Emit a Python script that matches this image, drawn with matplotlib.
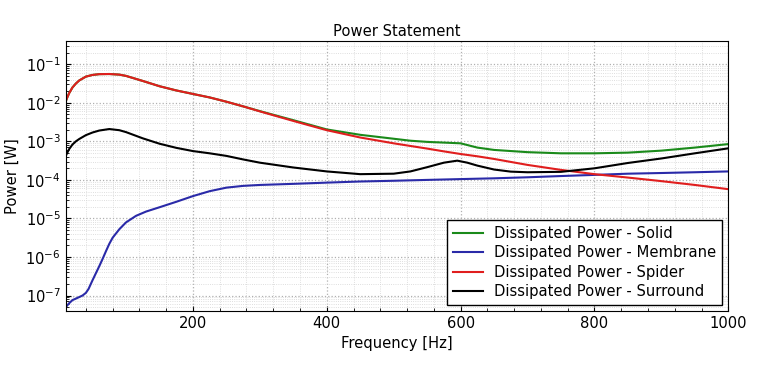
import matplotlib
matplotlib.use("Agg")
import matplotlib.pyplot as plt
from matplotlib.ticker import AutoMinorLocator, LogLocator, NullFormatter

# Values (frequency in Hz, power in W)
freq = [10, 12, 15, 20, 25, 30, 40, 50, 60, 75, 90, 100, 125, 150, 175, 200,
        225, 250, 275, 300, 350, 400, 450, 500, 525, 550, 575, 600, 625, 650,
        700, 750, 800, 850, 900, 950, 1000]

spider = [1.10e-2, 1.35e-2, 1.78e-2, 2.51e-2, 3.16e-2, 3.80e-2, 4.79e-2, 5.3e-2,
          5.55e-2, 5.6e-2, 5.4e-2, 5.0e-2, 3.7e-2, 2.7e-2, 2.1e-2, 1.70e-2,
          1.38e-2, 1.07e-2, 8.1e-3, 6.0e-3, 3.39e-3, 1.95e-3, 1.26e-3, 8.9e-4,
          7.6e-4, 6.5e-4, 5.5e-4, 4.7e-4, 4.1e-4, 3.5e-4, 2.45e-4, 1.82e-4,
          1.41e-4, 1.15e-4, 9.3e-5, 7.4e-5, 5.75e-5]

solid = [1.10e-2, 1.35e-2, 1.78e-2, 2.51e-2, 3.16e-2, 3.80e-2, 4.79e-2, 5.3e-2,
         5.55e-2, 5.6e-2, 5.4e-2, 5.0e-2, 3.7e-2, 2.7e-2, 2.1e-2, 1.70e-2,
         1.38e-2, 1.07e-2, 8.1e-3, 6.1e-3, 3.55e-3, 2.04e-3, 1.48e-3, 1.17e-3,
         1.04e-3, 9.7e-4, 9.3e-4, 8.9e-4, 6.9e-4, 6.0e-4, 5.25e-4, 4.9e-4,
         4.9e-4, 5.1e-4, 5.75e-4, 6.9e-4, 8.5e-4]

freq_surround = [10, 12, 15, 20, 25, 30, 40, 50, 60, 75, 90, 100, 125, 150, 175,
                 200, 225, 250, 275, 300, 350, 400, 450, 500, 525, 550, 575, 595,
                 610, 625, 650, 675, 700, 750, 800, 850, 900, 950, 1000]

surround = [4.2e-4, 5.0e-4, 6.3e-4, 8.3e-4, 1.0e-3, 1.15e-3, 1.45e-3, 1.70e-3,
            1.91e-3, 2.09e-3, 1.95e-3, 1.74e-3, 1.20e-3, 8.7e-4, 6.8e-4, 5.6e-4,
            4.9e-4, 4.2e-4, 3.4e-4, 2.8e-4, 2.1e-4, 1.66e-4, 1.41e-4, 1.45e-4,
            1.66e-4, 2.14e-4, 2.8e-4, 3.16e-4, 2.8e-4, 2.35e-4, 1.86e-4, 1.64e-4,
            1.58e-4, 1.62e-4, 2.0e-4, 2.75e-4, 3.6e-4, 4.9e-4, 6.6e-4]

freq_membrane = [10, 15, 20, 25, 30, 35, 40, 44, 50, 55, 60, 65, 70, 75, 80, 90,
                 100, 115, 130, 150, 175, 200, 225, 250, 275, 300, 350, 400,
                 450, 500, 550, 600, 650, 700, 750, 800, 850, 900, 950, 1000]

membrane = [5.0e-8, 6.3e-8, 7.6e-8, 8.3e-8, 9.1e-8, 1.0e-7, 1.17e-7, 1.48e-7,
            2.5e-7, 3.8e-7, 5.75e-7, 8.9e-7, 1.41e-6, 2.19e-6, 3.16e-6, 5.25e-6,
            7.9e-6, 1.17e-5, 1.51e-5, 1.95e-5, 2.7e-5, 3.8e-5, 5.1e-5, 6.3e-5,
            7.0e-5, 7.4e-5, 7.9e-5, 8.5e-5, 9.1e-5, 9.5e-5, 1.0e-4, 1.05e-4,
            1.10e-4, 1.17e-4, 1.26e-4, 1.35e-4, 1.45e-4, 1.51e-4, 1.58e-4,
            1.66e-4]

series = [
    ("Dissipated Power - Solid", freq, solid, "#1a8a1a"),
    ("Dissipated Power - Membrane", freq_membrane, membrane, "#2a2aa8"),
    ("Dissipated Power - Spider", freq, spider, "#e01e1e"),
    ("Dissipated Power - Surround", freq_surround, surround, "black"),
]

fs = 10.6

fig = plt.figure(figsize=(7.65, 3.67), dpi=100)
ax = fig.add_axes([0.086, 0.153, 0.866, 0.735])

for label, x, values, color in series:
    ax.semilogy(x, values, color=color, lw=1.5, label=label)

ax.set_xlim(10, 1000)
ax.set_ylim(4e-8, 4e-1)
ax.set_xticks([200, 400, 600, 800, 1000])
ax.xaxis.set_minor_locator(AutoMinorLocator(5))
ax.yaxis.set_major_locator(LogLocator(base=10, numticks=15))
ax.yaxis.set_minor_locator(LogLocator(base=10, subs=range(2, 10), numticks=15))
ax.yaxis.set_minor_formatter(NullFormatter())

ax.grid(which="major", color="#b0b0b0", ls=":", lw=0.9)
ax.grid(which="minor", color="#d4d4d4", ls=":", lw=0.6)
ax.tick_params(which="both", direction="in", labelsize=fs)

ax.set_title("Power Statement", fontsize=fs, pad=4)
ax.set_xlabel("Frequency [Hz]", fontsize=fs)
ax.set_ylabel("Power [W]", fontsize=fs)

leg = ax.legend(loc="lower right", fontsize=fs, fancybox=False,
                framealpha=1, edgecolor="black", borderaxespad=0.4,
                handlelength=2.0, labelspacing=0.3)
leg.get_frame().set_linewidth(1.0)

fig.savefig("out.png", dpi=100)
plt.close(fig)
